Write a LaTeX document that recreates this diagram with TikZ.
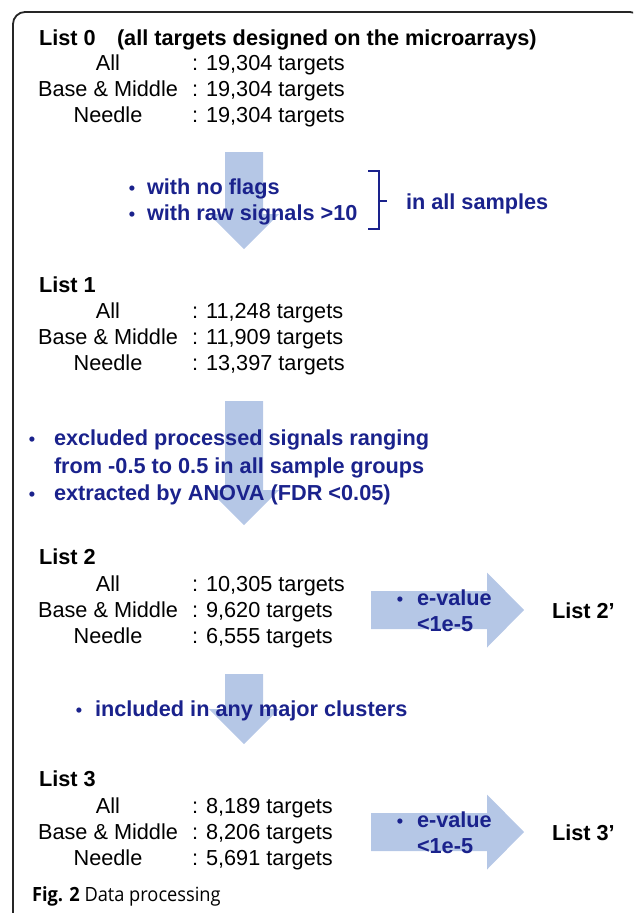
\documentclass[tikz,border=0pt]{standalone}
\usepackage{fontspec}
\setmainfont{Liberation Sans}
\newfontfamily\capfont[FakeStretch=0.93]{Open Sans}
\definecolor{flowblue}{RGB}{26,34,140}
\definecolor{arrowfill}{RGB}{181,199,230}
\tikzset{
  every node/.style={inner sep=0pt, outer sep=0pt},
  body/.style={font=\fontsize{21.7}{26}\selectfont},
  val/.style={body, anchor=base west},
  lbl/.style={body, anchor=base},
  heading/.style={body, font=\fontsize{21.7}{26}\selectfont\bfseries, anchor=base west},
  note/.style={font=\fontsize{21.7}{26}\selectfont\bfseries, text=flowblue, anchor=base west},
  bul/.style={font=\fontsize{18}{22}\selectfont\bfseries, text=flowblue, anchor=base},
  flow/.style={fill=arrowfill, draw=none},
}
\begin{document}
\begin{tikzpicture}[x=1pt, y=-1pt]
\useasboundingbox (0,0) rectangle (633,913);
\begin{scope}
  \clip (0,0) rectangle (633,913);
  \draw[line width=1.8pt, rounded corners=12pt, color=black!85] (13,12) rectangle (642,930);
\end{scope}

% block arrows between the lists
\fill[flow] (225,152) -- (263,152) -- (263,214) -- (279,214) -- (244,249) -- (209,214) -- (225,214) -- cycle;
\fill[flow] (225,401) -- (263,401) -- (263,490) -- (279,490) -- (244,525) -- (209,490) -- (225,490) -- cycle;
\fill[flow] (225,674) -- (263,674) -- (263,709) -- (279,709) -- (244,744) -- (209,709) -- (225,709) -- cycle;
\fill[flow] (371,591) -- (487,591) -- (487,572.5) -- (524,610) -- (487,647.5) -- (487,629) -- (371,629) -- cycle;
\fill[flow] (371,813) -- (487,813) -- (487,794.5) -- (524,832) -- (487,869.5) -- (487,851) -- (371,851) -- cycle;

% List 0
\node[heading] (l0) at (39,45.5) {List 0};
\node[heading] (l0note) at (117,45.5) {(all targets designed on the microarrays)};
\node[lbl] (l0a) at (108,70.8) {All};
\node[lbl] (l0b) at (108,96.6) {Base \& Middle};
\node[lbl] (l0c) at (108,122.4) {Needle};
\node[val] (l0av) at (192,70.8) {: 19,304 targets};
\node[val] (l0bv) at (192,96.6) {: 19,304 targets};
\node[val] (l0cv) at (192,122.4) {: 19,304 targets};

% filter 1
\node[bul] (b1a) at (132,194) {•};
\node[note] (f1a) at (147,194) {with no flags};
\node[bul] (b1b) at (132,220) {•};
\node[note] (f1b) at (147,220) {with raw signals >10};
\draw[flowblue, line width=2.6pt] (368,171) -- (379,171) -- (379,229) -- (368,229);
\draw[flowblue, line width=2.6pt] (379,201) -- (387,201);
\node[note] (f1c) at (406,209) {in all samples};

% List 1
\node[heading] (l1) at (39,292) {List 1};
\node[lbl] (l1a) at (108,318) {All};
\node[lbl] (l1b) at (108,344) {Base \& Middle};
\node[lbl] (l1c) at (108,370) {Needle};
\node[val] (l1av) at (192,318) {: 11,248 targets};
\node[val] (l1bv) at (192,344) {: 11,909 targets};
\node[val] (l1cv) at (192,370) {: 13,397 targets};

% filter 2
\node[bul] (b2a) at (32,445) {•};
\node[note] (f2a) at (54,445) {excluded processed signals ranging};
\node[note] (f2b) at (54,473) {from -0.5 to 0.5 in all sample groups};
\node[bul] (b2b) at (32,500) {•};
\node[note] (f2c) at (54,500) {extracted by ANOVA (FDR <0.05)};

% List 2
\node[heading] (l2) at (39,564) {List 2};
\node[lbl] (l2a) at (108,591) {All};
\node[lbl] (l2b) at (108,617) {Base \& Middle};
\node[lbl] (l2c) at (108,643) {Needle};
\node[val] (l2av) at (192,591) {: 10,305 targets};
\node[val] (l2bv) at (192,617) {: 9,620 targets};
\node[val] (l2cv) at (192,643) {: 6,555 targets};
\node[bul] (b2r) at (400,605) {•};
\node[note] (e2a) at (417,605) {e-value};
\node[note] (e2b) at (417,631) {<1e-5};
\node[heading] (l2p) at (552,618) {List 2’};

% filter 3
\node[bul] (b3) at (79,716) {•};
\node[note] (f3) at (95,716) {included in any major clusters};

% List 3
\node[heading] (l3) at (39,786) {List 3};
\node[lbl] (l3a) at (108,813) {All};
\node[lbl] (l3b) at (108,839) {Base \& Middle};
\node[lbl] (l3c) at (108,865) {Needle};
\node[val] (l3av) at (192,813) {: 8,189 targets};
\node[val] (l3bv) at (192,839) {: 8,206 targets};
\node[val] (l3cv) at (192,865) {: 5,691 targets};
\node[bul] (b3r) at (400,827) {•};
\node[note] (e3a) at (417,827) {e-value};
\node[note] (e3b) at (417,853) {<1e-5};
\node[heading] (l3p) at (552,840) {List 3’};

% caption
\node[anchor=base west, font=\capfont\fontsize{19.6}{24}\selectfont] (cap) at (32,901) {\textbf{Fig. 2} Data processing};
\end{tikzpicture}
\end{document}
